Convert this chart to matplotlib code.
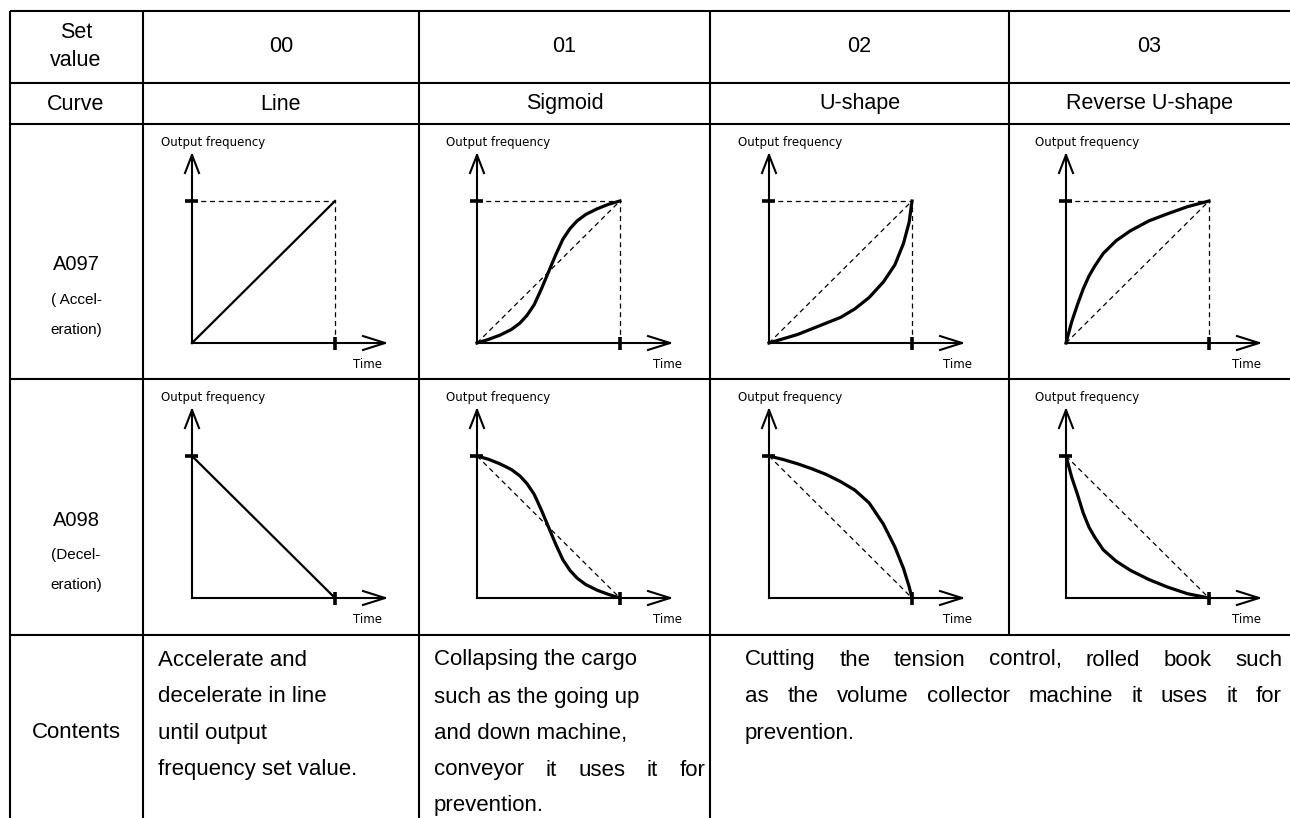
import matplotlib
matplotlib.use("Agg")
import matplotlib.pyplot as plt
from matplotlib import font_manager

# table text
set_values = ["00", "01", "02", "03"]
curve_names = ["Line", "Sigmoid", "U-shape", "Reverse U-shape"]
row_codes = ["A097", "A098"]
row_notes = [["( Accel-", "eration)"], ["(Decel-", "eration)"]]

# curve shapes (t = time, f = output frequency, both 0..1)
t_line = [0, 1]
f_line_acc = [0, 1]
f_line_dec = [1, 0]

t_sig = [0, 0.08, 0.16, 0.24, 0.3, 0.35, 0.4, 0.45, 0.5, 0.55, 0.6, 0.65, 0.7, 0.76, 0.84, 0.92, 1]
f_sig_acc = [0, 0.025, 0.055, 0.095, 0.14, 0.195, 0.27, 0.38, 0.5, 0.62, 0.73, 0.805, 0.86, 0.905, 0.945, 0.977, 1]
f_sig_dec = [1, 0.977, 0.945, 0.905, 0.86, 0.805, 0.73, 0.62, 0.5, 0.38, 0.27, 0.195, 0.14, 0.095, 0.055, 0.025, 0]

t_u = [0, 0.1, 0.2, 0.3, 0.4, 0.5, 0.6, 0.7, 0.8, 0.88, 0.94, 0.98, 1]
f_u_acc = [0, 0.03, 0.06, 0.1, 0.14, 0.18, 0.24, 0.32, 0.43, 0.55, 0.7, 0.85, 1]
f_u_dec = [1, 0.975, 0.945, 0.91, 0.87, 0.82, 0.76, 0.67, 0.52, 0.36, 0.21, 0.08, 0]

t_ru = [0, 0.04, 0.08, 0.12, 0.16, 0.2, 0.26, 0.35, 0.45, 0.58, 0.71, 0.85, 1]
f_ru_acc = [0, 0.15, 0.27, 0.38, 0.47, 0.54, 0.63, 0.72, 0.79, 0.86, 0.91, 0.96, 1]
f_ru_dec = [1, 0.85, 0.73, 0.6, 0.5, 0.43, 0.34, 0.26, 0.195, 0.13, 0.077, 0.03, 0]

curves_acc = [(t_line, f_line_acc), (t_sig, f_sig_acc), (t_u, f_u_acc), (t_ru, f_ru_acc)]
curves_dec = [(t_line, f_line_dec), (t_sig, f_sig_dec), (t_u, f_u_dec), (t_ru, f_ru_dec)]

contents_00 = ["Accelerate and", "decelerate in line", "until output", "frequency set value."]
contents_01 = ["Collapsing the cargo", "such as the going up", "and down machine,",
               "conveyor it uses it for", "prevention."]
contents_23 = ["Cutting the tension control, rolled book such",
               "as the volume collector machine it uses it for", "prevention."]

W, H = 1290, 818
fig = plt.figure(figsize=(W / 100, H / 100), dpi=100)
ax = fig.add_axes([0, 0, 1, 1])
ax.set_xlim(0, W)
ax.set_ylim(H, 0)
ax.axis("off")

names = {f.name for f in font_manager.fontManager.ttflist}
body_font = "Liberation Sans Narrow" if "Liberation Sans Narrow" in names else "Liberation Sans"
body_size = 19 if body_font == "Liberation Sans Narrow" else 16
head = dict(family="Liberation Sans", fontsize=15.5, ha="center", va="center")

# grid
col_x = [10, 143, 419, 710, 1009, W]
row_y = [11, 83, 124, 379, 635]
lw = 1.5
for y in row_y:
    ax.plot([10, W], [y, y], color="black", lw=lw, solid_capstyle="butt")
for x in col_x[:4]:
    ax.plot([x, x], [11, H], color="black", lw=lw, solid_capstyle="butt")
ax.plot([1009, 1009], [11, 635], color="black", lw=lw, solid_capstyle="butt")

# header rows
ax.text(76, 33, "Set", **head)
ax.text(76, 60, "value", **head)
ax.text(76, 104, "Curve", **head)
for i in range(4):
    cx = (col_x[i + 1] + col_x[i + 2]) / 2
    ax.text(cx, 47, set_values[i], **head)
    ax.text(cx, 104, curve_names[i], **head)

# row labels
for r, yc in enumerate([265, 520]):
    ax.text(76, yc, row_codes[r], family="Liberation Sans", fontsize=14.5, ha="center", va="center")
    ax.text(76, yc + 35, row_notes[r][0], family="Liberation Sans", fontsize=11, ha="center", va="center")
    ax.text(76, yc + 65, row_notes[r][1], family="Liberation Sans", fontsize=11, ha="center", va="center")

# panels
origins_x = [192, 477, 769, 1066]
time_right = [382, 682, 972, 1261]
origins_y = [343, 598]
PW, PH = 143, 142
for r, curves in enumerate([curves_acc, curves_dec]):
    y0 = origins_y[r]
    for c in range(4):
        x0 = origins_x[c]
        pa = fig.add_axes([x0 / W, (H - y0) / H, PW / W, PH / H])
        pa.set_xlim(0, 1)
        pa.set_ylim(0, 1)
        pa.axis("off")
        k = dict(color="black", clip_on=False)
        # axes with open arrowheads
        pa.plot([0, 0], [0, 1.324], lw=1.5, **k)
        pa.plot([-0.049, 0, 0.049], [1.197, 1.324, 1.197], lw=1.5, **k)
        pa.plot([0, 1.35], [0, 0], lw=1.5, **k)
        pa.plot([1.196, 1.35, 1.196], [0.049, 0, -0.049], lw=1.5, **k)
        # ticks
        pa.plot([-0.05, 0.042], [1, 1], lw=2.6, solid_capstyle="butt", **k)
        pa.plot([1, 1], [-0.05, 0.042], lw=2.6, solid_capstyle="butt", **k)
        if r == 0:
            pa.plot([0, 1], [1, 1], lw=0.9, ls=(0, (4, 3)), **k)
            pa.plot([1, 1], [0, 1], lw=0.9, ls=(0, (4, 3)), **k)
        if c > 0:
            if r == 0:
                pa.plot([0, 1], [0, 1], lw=0.9, ls=(0, (4, 3)), **k)
            else:
                pa.plot([0, 1], [1, 0], lw=0.9, ls=(0, (4, 3)), **k)
        t, f = curves[c]
        pa.plot(t, f, lw=1.6 if c == 0 else 2.3, solid_joinstyle="round", **k)
        pa.text(-0.217, 1.41, "Output frequency", family="DejaVu Sans", fontsize=8.5,
                ha="left", va="center", clip_on=False)
        pa.text((time_right[c] - x0) / PW, -0.148, "Time", family="DejaVu Sans", fontsize=8.5,
                ha="right", va="center", clip_on=False)

# contents row
renderer = fig.canvas.get_renderer()
body = dict(family=body_font, fontsize=body_size, va="center")


def justify(line, x_left, x_right, y):
    words = line.split()
    texts = [ax.text(0, y, w, ha="left", **body) for w in words]
    widths = [t.get_window_extent(renderer).width for t in texts]
    gap = (x_right - x_left - sum(widths)) / (len(words) - 1)
    x = x_left
    for t, w in zip(texts, widths):
        t.set_x(x)
        x += w + gap


line_y = [660, 697, 733, 770, 806]
ax.text(76, 733, "Contents", ha="center", **body)
for i, line in enumerate(contents_00):
    ax.text(158, line_y[i], line, ha="left", **body)
for i, line in enumerate(contents_01):
    if i == 3:
        justify(line, 434, 705, line_y[i])
    else:
        ax.text(434, line_y[i], line, ha="left", **body)
for i, line in enumerate(contents_23):
    if i < 2:
        justify(line, 745, 1282, line_y[i])
    else:
        ax.text(745, line_y[i], line, ha="left", **body)

fig.savefig("out.png", dpi=100)
